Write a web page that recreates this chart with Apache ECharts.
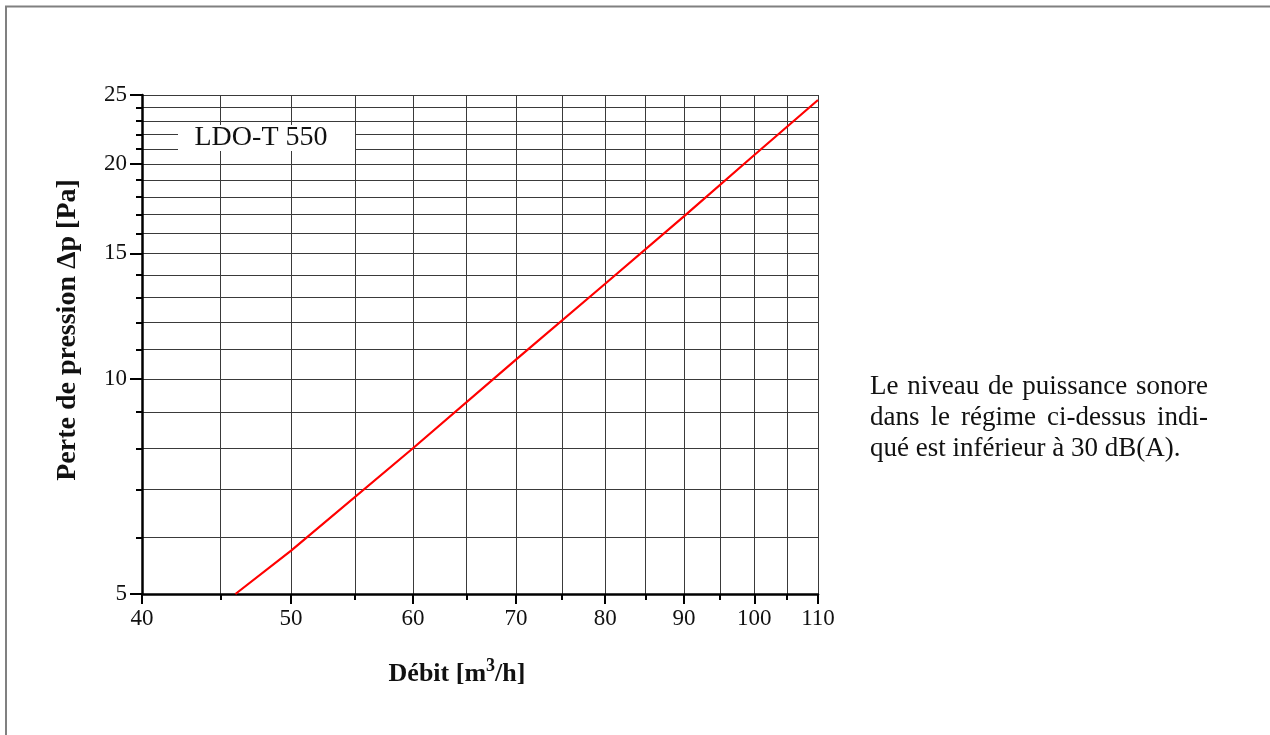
<!DOCTYPE html>
<html><head><meta charset="utf-8">
<script src="https://cdn.jsdelivr.net/npm/echarts@6/dist/echarts.min.js"></script>
<style>html,body{margin:0;padding:0;background:#fff}#c{width:1270px;height:735px}</style>
</head><body><div id="c"></div>
<script>
// ---- data ----
const flowValues = [46.0, 50, 60, 70, 80, 90, 100, 110];          // Débit [m3/h]
const pressureValues = [5.0, 5.75, 8.0, 10.65, 13.6, 16.9, 20.6, 24.6]; // Δp [Pa]
const xMajorTicks = [40, 50, 60, 70, 80, 90, 100, 110];
const xMinorTicks = [40, 45, 50, 55, 60, 65, 70, 75, 80, 85, 90, 95, 100, 105, 110];
const yMajorTicks = [5, 10, 15, 20, 25];
const yMinorTicks = [5, 6, 7, 8, 9, 10, 11, 12, 13, 14, 15, 16, 17, 18, 19, 20, 21, 22, 23, 24, 25];
const seriesName = 'LDO-T 550';
const xTitle = ['Débit [m', '3', '/h]'];
const yTitle = 'Perte de pression Δp [Pa]';
const noteLines = ['Le niveau de puissance sonore', 'dans le régime ci-dessus indi-', 'qué est inférieur à 30 dB(A).'];

const SERIF = '"Liberation Serif", "Times New Roman", serif';
const chart = echarts.init(document.getElementById('c'), null, {renderer: 'canvas'});

const ctx = document.createElement('canvas').getContext('2d');
const noteFont = '27px ' + SERIF;
function noteElements() {
  const els = [];
  const x0 = 870, x1 = 1208, ys = [387, 418, 449];
  ctx.font = noteFont;
  noteLines.forEach((line, li) => {
    const words = line.split(' ');
    const widths = words.map(w => ctx.measureText(w).width);
    const total = widths.reduce((a, b) => a + b, 0);
    const justify = li < noteLines.length - 1;
    const gap = justify ? (x1 - x0 - total) / (words.length - 1) : ctx.measureText(' ').width;
    let x = x0;
    words.forEach((w, i) => {
      els.push({type: 'text', x: x, y: ys[li], silent: true,
        style: {text: w, font: noteFont, fill: '#111', textAlign: 'left', textVerticalAlign: 'middle'}});
      x += widths[i] + gap;
    });
  });
  return els;
}

const axisLabelStyle = {color: '#111', fontFamily: SERIF, fontSize: 23};

const option = {
  animation: false,
  backgroundColor: '#fff',
  grid: {left: 142, top: 95, width: 676, height: 499, outerBoundsMode: 'none', containLabel: false},
  xAxis: [
    {type: 'log', logBase: 10, min: 40, max: 110, position: 'bottom',
      axisLine: {show: true, onZero: false, lineStyle: {color: '#000', width: 2.5}},
      axisTick: {show: true, customValues: xMinorTicks, length: 6, lineStyle: {color: '#000', width: 2}},
      axisLabel: Object.assign({show: true, customValues: xMajorTicks, margin: 13, formatter: v => String(Math.round(v))}, axisLabelStyle),
      splitLine: {show: true, lineStyle: {color: '#3a3a3a', width: 1}},
      minorTick: {show: false}, minorSplitLine: {show: false}},
    {type: 'log', logBase: 10, min: 40, max: 110, position: 'bottom',
      axisLine: {show: false, onZero: false},
      axisTick: {show: true, customValues: xMajorTicks, length: 10, lineStyle: {color: '#000', width: 2}},
      axisLabel: {show: false},
      splitLine: {show: false}}
  ],
  yAxis: [
    {type: 'log', logBase: 10, min: 5, max: 25, position: 'left',
      axisLine: {show: true, onZero: false, lineStyle: {color: '#000', width: 2.5}},
      axisTick: {show: true, customValues: yMinorTicks, length: 6, lineStyle: {color: '#000', width: 2}},
      axisLabel: Object.assign({show: true, customValues: yMajorTicks, margin: 15, formatter: v => String(Math.round(v))}, axisLabelStyle),
      splitLine: {show: true, lineStyle: {color: '#3a3a3a', width: 1}}},
    {type: 'log', logBase: 10, min: 5, max: 25, position: 'left',
      axisLine: {show: false, onZero: false},
      axisTick: {show: true, customValues: yMajorTicks, length: 12, lineStyle: {color: '#000', width: 2}},
      axisLabel: {show: false},
      splitLine: {show: false}}
  ],
  series: [{
    name: seriesName, type: 'line', xAxisIndex: 0, yAxisIndex: 0,
    data: flowValues.map((x, i) => [x, pressureValues[i]]),
    showSymbol: false, symbol: 'none', smooth: false, clip: true,
    lineStyle: {color: '#ff0000', width: 2.2}, z: 5
  }],
  graphic: [
    {type: 'line', silent: true, shape: {x1: 5, y1: 6.5, x2: 1270, y2: 6.5}, style: {stroke: '#808080', lineWidth: 2}},
    {type: 'line', silent: true, shape: {x1: 6, y1: 6, x2: 6, y2: 735}, style: {stroke: '#808080', lineWidth: 2}},
    {type: 'rect', silent: true, z: 10, shape: {x: 178, y: 125, width: 177, height: 26}, style: {fill: '#fff'}},
    {type: 'text', silent: true, z: 11, x: 261, y: 138,
      style: {text: seriesName, font: '28px ' + SERIF, fill: '#111', textAlign: 'center', textVerticalAlign: 'middle'}},
    {type: 'text', silent: true, x: 68, y: 330, rotation: Math.PI / 2,
      style: {text: yTitle, font: 'bold 28px ' + SERIF, fill: '#111', textAlign: 'center', textVerticalAlign: 'middle'}},
    {type: 'text', silent: true, x: 457, y: 672,
      style: {text: '{a|' + xTitle[0] + '}{s|' + xTitle[1] + '}{a|' + xTitle[2] + '}', textAlign: 'center', textVerticalAlign: 'middle',
        rich: {a: {font: 'bold 26px ' + SERIF, fill: '#111', verticalAlign: 'bottom'},
               s: {font: 'bold 18px ' + SERIF, fill: '#111', verticalAlign: 'top', padding: [0, 0, 12, 0]}}}}
  ].concat(noteElements())
};
chart.setOption(option);
</script>
</body></html>
